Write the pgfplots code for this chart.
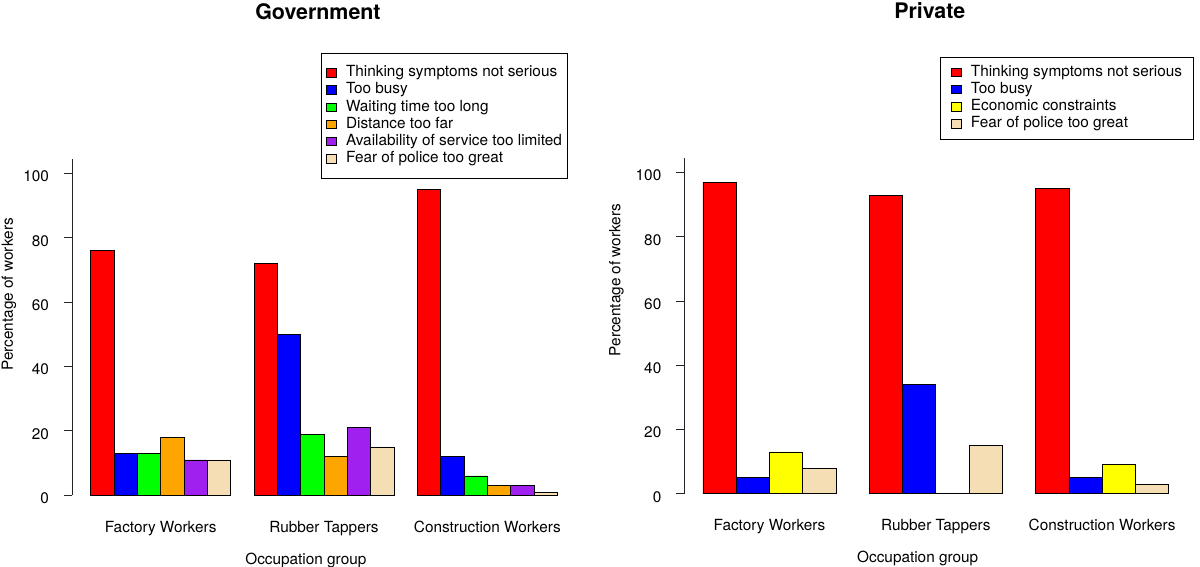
\documentclass[border=0pt]{standalone}
\usepackage{fontspec}
\setmainfont{TeX Gyre Heros}
\usepackage{pgfplots}
\pgfplotsset{compat=1.18}
\definecolor{rred}{RGB}{255,0,0}
\definecolor{rblue}{RGB}{0,0,255}
\definecolor{rgreen}{RGB}{0,255,0}
\definecolor{rorange}{RGB}{255,165,0}
\definecolor{rpurple}{RGB}{160,32,240}
\definecolor{rwheat}{RGB}{245,222,179}
\definecolor{ryellow}{RGB}{255,255,0}
\newcommand{\basefont}{\fontsize{15.4}{18}\selectfont}
\pgfplotsset{
  rpanel/.style={
    scale only axis, clip=false,
    anchor=south west,
    ybar, bar width=1,
    ymin=0, ymax=104.5,
    axis y line*=left, axis x line*=bottom,
    x axis line style={draw=none},
    y axis line style={-, line width=0.8bp, color=black!85},
    ytick={0,20,40,60,80,100},
    tick align=outside,
    major tick length=8bp,
    xtick style={draw=none},
    ytick style={line width=0.8bp, color=black!85},
    /pgf/number format/assume math mode=true,
    tick label style={font=\basefont},
    yticklabel style={anchor=east, xshift=-11.5bp, yshift=-3bp},
    xticklabel style={anchor=base, yshift=-29bp},
    label style={font=\basefont},
    title style={anchor=base, yshift=133.5bp, font=\bfseries\fontsize{21.5}{24}\selectfont},
    xlabel style={anchor=base, yshift=-69bp},
    legend cell align=left,
    legend image code/.code={\path (0bp,0bp) (19bp,0bp);\draw[##1, draw=black, line width=0.6bp] (2bp,-4bp) rectangle (11.5bp,4.5bp);},
    legend style={anchor=north west, draw=black, line width=0.8bp, fill=white,
      font=\basefont, row sep=0bp,
      nodes={inner ysep=1.35bp, text height=11bp, text depth=3.5bp}},
  },
  b/.style={fill=#1, draw=black, line width=0.7bp, bar shift=0pt},
}
\begin{document}
\begin{tikzpicture}
\useasboundingbox (0,0) rectangle (1200bp,567bp);
% ---------------- Government ----------------
\begin{axis}[rpanel,
  at={(72bp,71.7bp)}, width=504bp, height=336.5bp,
  xmin=0.2, xmax=21.8,
  xtick={4,11,18},
  xticklabels={Factory Workers, Rubber Tappers, Construction Workers},
  title={Government},
  title style={at={(axis description cs:0.488,1)}},
  xlabel={Occupation group},
  xlabel style={at={(axis description cs:0.464,0)}},
  ylabel={Percentage of workers},
  ylabel style={at={(axis description cs:-0.125,0.597)}, anchor=center},
  legend style={at={(axis description cs:0.494,1.3135)}, inner xsep=3bp, inner ysep=10.6bp},
]
\addplot[b=rred]    coordinates {(1.5,76) (8.5,72) (15.5,95)};
\addplot[b=rblue]   coordinates {(2.5,13) (9.5,50) (16.5,12)};
\addplot[b=rgreen]  coordinates {(3.5,13) (10.5,19) (17.5,6)};
\addplot[b=rorange] coordinates {(4.5,18) (11.5,12) (18.5,3)};
\addplot[b=rpurple] coordinates {(5.5,11) (12.5,21) (19.5,3)};
\addplot[b=rwheat]  coordinates {(6.5,11) (13.5,15) (20.5,1)};
\legend{Thinking symptoms not serious, Too busy, Waiting time too long, Distance too far, Availability of service too limited, Fear of police too great}
\end{axis}
% ---------------- Private ----------------
\begin{axis}[rpanel,
  at={(684.3bp,73.3bp)}, width=503bp, height=335.5bp,
  xmin=0.44, xmax=15.56,
  xtick={3,8,13},
  xticklabels={Factory Workers, Rubber Tappers, Construction Workers},
  title={Private},
  title style={at={(axis description cs:0.488,1)}},
  xlabel={Occupation group},
  xlabel style={at={(axis description cs:0.464,0)}},
  ylabel={Percentage of workers},
  ylabel style={at={(axis description cs:-0.135,0.637)}, anchor=center},
  legend style={at={(axis description cs:0.508,1.3016)}, inner xsep=9bp, inner ysep=6.5bp},
]
\addplot[b=rred]    coordinates {(1.5,97) (6.5,93) (11.5,95)};
\addplot[b=rblue]   coordinates {(2.5,5) (7.5,34) (12.5,5)};
\addplot[b=ryellow] coordinates {(3.5,13) (8.5,0) (13.5,9)};
\addplot[b=rwheat]  coordinates {(4.5,8) (9.5,15) (14.5,3)};
\legend{Thinking symptoms not serious, Too busy, Economic constraints, Fear of police too great}
\end{axis}
\end{tikzpicture}
\end{document}
